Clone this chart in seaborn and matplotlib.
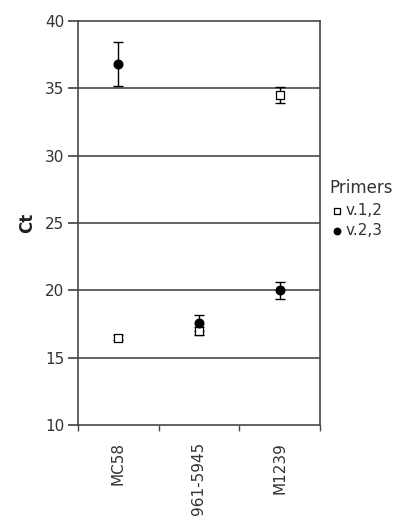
import numpy as np
import pandas as pd
import matplotlib
matplotlib.use('Agg')
import matplotlib.pyplot as plt
import seaborn as sns
from matplotlib.ticker import FixedLocator

# Data
strains = ['MC58', '961-5945', 'M1239']
ct_v12 = [16.5, 17.0, 34.5]
err_v12 = [0.2, 0.3, 0.6]
ct_v23 = [36.8, 17.6, 20.0]
err_v23 = [1.6, 0.6, 0.65]
primers = ['v.1,2', 'v.2,3']

df = pd.DataFrame({
    'strain': strains * 2,
    'Ct': ct_v12 + ct_v23,
    'err': err_v12 + err_v23,
    'Primers': [primers[0]] * 3 + [primers[1]] * 3,
})

sns.set_theme(style='white')
plt.rcParams['font.family'] = ['DejaVu Sans']

fig = plt.figure(figsize=(4.0, 5.21), dpi=100)
ax = fig.add_axes([0.195, 0.184, 0.605, 0.776])

grid_col = '#484848'
for y in range(15, 40, 5):
    ax.axhline(y, color=grid_col, lw=1.2, zorder=0)

styles = {
    'v.1,2': dict(marker='s', facecolor='white', s=32),
    'v.2,3': dict(marker='o', facecolor='black', s=40),
}
for name, sub in df.groupby('Primers', sort=False):
    xs = [strains.index(v) for v in sub['strain']]
    ax.errorbar(xs, sub['Ct'], yerr=sub['err'], fmt='none', ecolor='black',
                elinewidth=1, capsize=3.5, capthick=1, zorder=2)
    sns.scatterplot(x=xs, y=sub['Ct'].values, ax=ax, marker=styles[name]['marker'],
                    facecolor=styles[name]['facecolor'], edgecolor='black',
                    linewidth=0.9, s=styles[name]['s'], label=name, zorder=3)

ax.set_xlim(-0.5, len(strains) - 0.5)
ax.set_ylim(10, 40)
ax.set_yticks(range(10, 41, 5))
ax.set_xticks(range(len(strains)))
ax.set_xticklabels(strains, rotation=90, fontsize=11, color='#333333')
ax.xaxis.set_minor_locator(FixedLocator(np.arange(-0.5, len(strains), 1.0)))
ax.tick_params(axis='x', which='major', length=0, pad=12)
ax.tick_params(axis='x', which='minor', length=4, color=grid_col, bottom=True)
ax.tick_params(axis='y', length=7, color=grid_col, labelsize=11, labelcolor='#333333',
               left=True, pad=3)
ax.set_ylabel('Ct', fontsize=12, fontweight='bold', labelpad=6, color='#222222')
ax.set_xlabel('')

for sp in ax.spines.values():
    sp.set_color(grid_col)
    sp.set_linewidth(1.2)

leg = ax.legend(title='Primers', loc='center left', bbox_to_anchor=(1.0, 0.535),
                frameon=False, fontsize=11, title_fontsize=12, handletextpad=0.1,
                markerscale=0.75, borderaxespad=0.2, handlelength=1.0, labelspacing=0.35)
leg._legend_box.align = 'left'
plt.setp(leg.get_texts(), color='#333333')
leg.get_title().set_color('#333333')

fig.savefig('out.png', dpi=100)
